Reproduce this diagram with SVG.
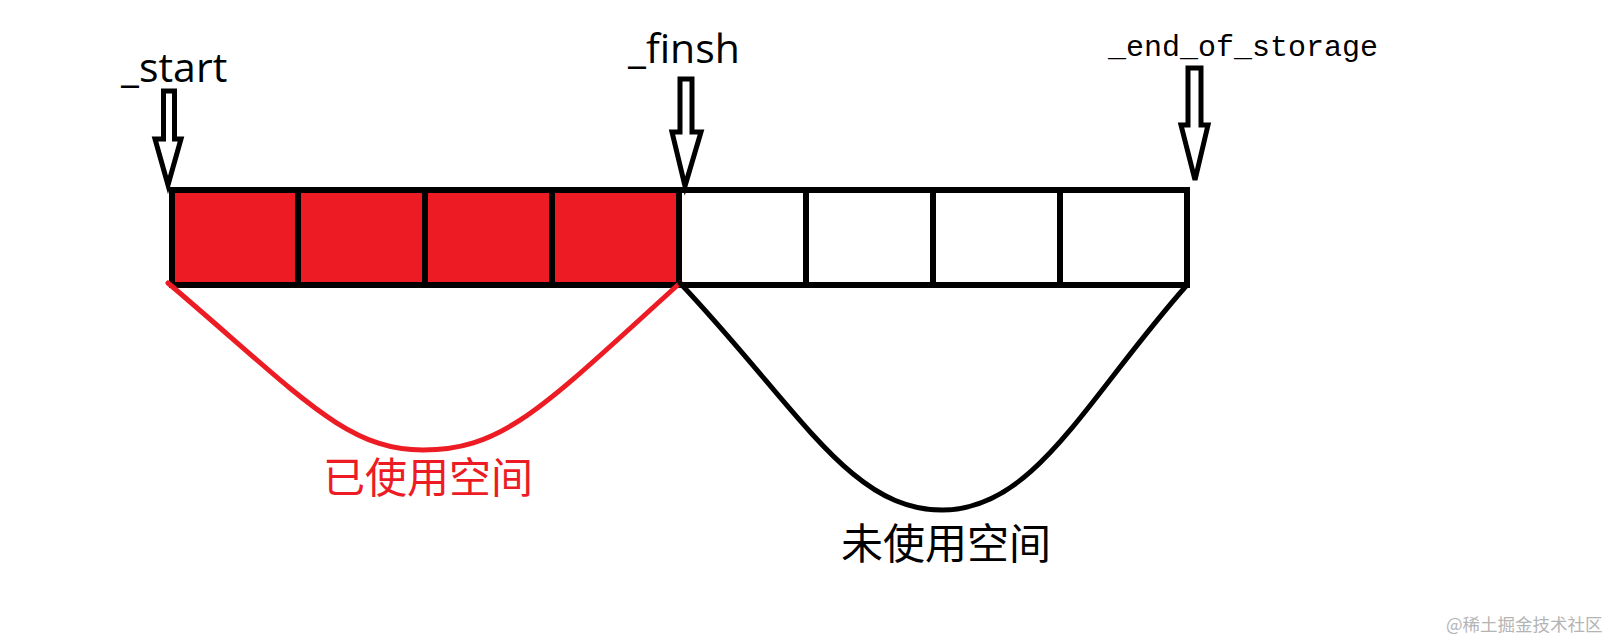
<svg xmlns="http://www.w3.org/2000/svg" width="1615" height="641" viewBox="0 0 1615 641">
<style>
.cell{stroke:#000;stroke-width:6;stroke-linecap:square}
.used{fill:#ED1C24}
.ptr{fill:#fff;stroke:#000;stroke-width:5;stroke-linejoin:miter}
.lbl{font-family:"Open Sans","Noto Sans",sans-serif;font-size:41px;fill:#000}
.mono{font-family:"Liberation Mono","DejaVu Sans Mono",monospace;font-size:30px;fill:#000}
.cjk{font-family:"Noto Sans CJK SC","Noto Sans",sans-serif;font-size:42px}
.curve{fill:none;stroke-width:5;stroke-linecap:round}
</style>
<rect width="1615" height="641" fill="#fff"/>
<g id="used-cells">
<rect class="used" x="172" y="190" width="507" height="95"/>
</g>
<g id="array">
<rect class="cell" x="172" y="190" width="1015" height="95" fill="none"/>
<line class="cell" x1="298" y1="190" x2="298" y2="285"/>
<line class="cell" x1="425" y1="190" x2="425" y2="285"/>
<line class="cell" x1="552" y1="190" x2="552" y2="285"/>
<line class="cell" x1="679" y1="190" x2="679" y2="285"/>
<line class="cell" x1="806" y1="190" x2="806" y2="285"/>
<line class="cell" x1="933" y1="190" x2="933" y2="285"/>
<line class="cell" x1="1060" y1="190" x2="1060" y2="285"/>
</g>
<g id="connectors">
<polygon class="ptr" points="163.5,91 174.5,91 174.5,139 181,139 168,185 155,139 163.5,139"/>
<polygon class="ptr" points="680,79 692,79 692,132 701,132 685,186 672,132 680,132"/>
<polygon class="ptr" points="1188,68 1201,68 1201,125 1208,125 1195,180 1181,125 1188,125"/>
<path class="curve" stroke="#ED1C24" d="M168,283 C300,395 345,450 423,450 C505,450 545,405 680,283"/>
<path class="curve" stroke="#000" d="M680,283 C800,410 850,510 942,510 C1035,510 1085,400 1187,285"/>
</g>
<g id="label-start"><text class="lbl" x="121" y="82">_start</text></g>
<g id="label-finsh"><text class="lbl" x="628" y="63" font-size="42">_finsh</text></g>
<g id="label-end"><text class="mono" x="1108" y="56">_end_of_storage</text></g>
<g id="label-used"><text class="cjk" x="323" y="493" fill="#ED1C24">已使用空间</text></g>
<g id="label-free"><text class="cjk" x="841" y="559" fill="#000">未使用空间</text></g>
<g id="watermark"><text x="1446" y="631" font-family="'Noto Sans CJK SC','Noto Sans',sans-serif" font-size="17.5" fill="#b4b4b4">@稀土掘金技术社区</text></g>
</svg>
